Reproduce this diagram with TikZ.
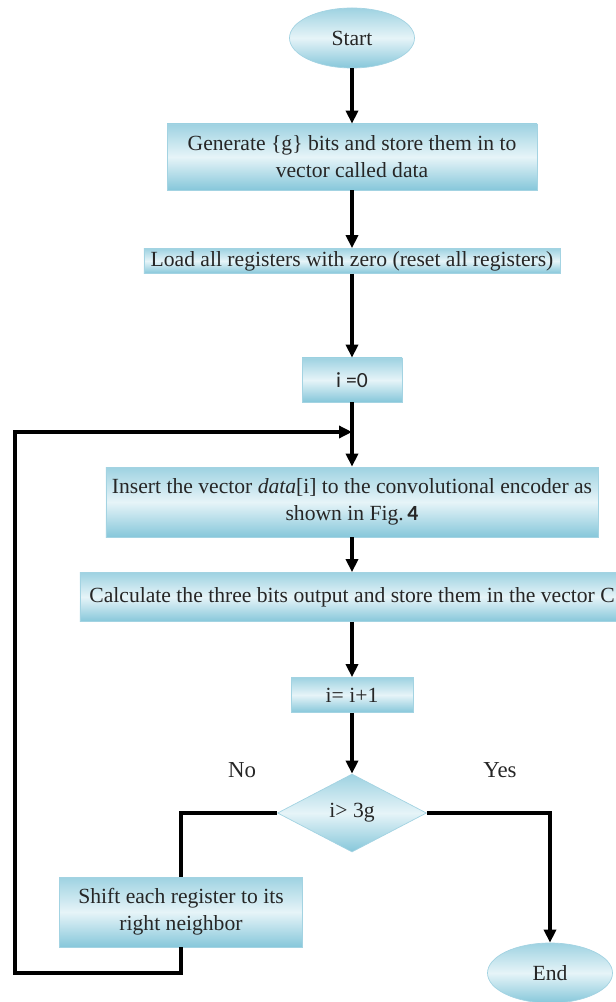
\documentclass[tikz,border=0pt]{standalone}
\usepackage{fontspec}
\setmainfont{Liberation Serif}
\newfontfamily\calibriFont{Carlito}
\usepackage{tikz}
\usetikzlibrary{
  arrows.meta,
  positioning,
  shapes.geometric
}
\definecolor{flowDark}{HTML}{86C7DA}
\definecolor{flowLight}{HTML}{E6F4F8}
\definecolor{flowBorder}{HTML}{A3D3E2}
\definecolor{flowText}{HTML}{262626}
\tikzset{
  flowFill/.style={
    top color=flowDark!80,
    bottom color=flowDark,
    middle color=flowLight,
    draw=flowBorder,
    thin
  },
  flowBox/.style={
    flowFill,
    rectangle,
    align=center,
    text=flowText,
    font=\fontsize{12.3}{15.4}\selectfont,
    inner sep=1pt
  },
  flowTerm/.style={
    flowFill,
    ellipse,
    text=flowText,
    font=\fontsize{12.3}{15.4}\selectfont,
    inner sep=1pt,
    minimum width=25mm,
    minimum height=12mm
  },
  flowDecision/.style={
    flowFill,
    diamond,
    aspect=2,
    text=flowText,
    font=\fontsize{12.3}{15.4}\selectfont,
    inner sep=0pt,
    minimum width=29.8mm,
    minimum height=15.6mm
  },
  flowArrow/.style={-{Triangle[length=2.6mm,width=2.4mm]}, line width=2.2pt, black},
  flowLine/.style={line width=2.2pt, black},
  flowLabel/.style={font=\fontsize{13}{15}\selectfont, text=flowText}
}
\begin{document}
\begin{tikzpicture}[x=0.2mm,y=-0.2mm]
  \useasboundingbox (0,0) rectangle (615,1002);
  % main column
  \node[flowTerm] (start) at (352,38) {Start};
  \node[flowBox, minimum width=74mm, minimum height=13.2mm]
    (gen) at (352,157)
    {Generate \{g\} bits and store them in to\\vector called data};
  \node[flowBox, minimum width=83.2mm, minimum height=5mm]
    (load) at (352,261)
    {Load all registers with zero (reset all registers)};
  \node[flowBox, minimum width=20mm, minimum height=8.8mm]
    (init) at (352,380)
    {\calibriFont i =0};
  \node[flowBox, minimum width=98.4mm, minimum height=14mm]
    (insert) at (352,502)
    {Insert the vector \textit{data}[i] to the convolutional encoder as\\
    shown in Fig.\,{\calibriFont\bfseries 4}};
  \node[flowBox, minimum width=108.8mm, minimum height=9.8mm]
    (calc) at (352,597)
    {Calculate the three bits output and store them in the vector C};
  \node[flowBox, minimum width=24.4mm, minimum height=7mm]
    (inc) at (352,695)
    {i= i+1};
  \node[flowDecision] (test) at (352,813) {i> 3g};
  % branches
  \node[flowBox, minimum width=48.6mm, minimum height=14mm]
    (shift) at (181,912)
    {Shift each register to its\\right neighbor};
  \node[flowTerm] (stop) at (550,973) {End};
  \node[flowLabel] (noLabel) at (242,770) {No};
  \node[flowLabel] (yesLabel) at (500,770) {Yes};
  \coordinate (join) at (352,432);
  \coordinate (loopCorner) at (15,973);

  \draw[flowArrow] (start) -- (gen);
  \draw[flowArrow] (gen) -- (load);
  \draw[flowArrow] (load) -- (init);
  \draw[flowArrow] (init) -- (insert);
  \draw[flowArrow] (insert) -- (calc);
  \draw[flowArrow] (calc) -- (inc);
  \draw[flowArrow] (inc) -- (test);
  \draw[flowLine] (test.west) -| (shift.north);
  \draw[flowArrow] (shift.south) |- (loopCorner) |- (join);
  \draw[flowArrow] (test.east) -| (stop.north);
\end{tikzpicture}
\end{document}
